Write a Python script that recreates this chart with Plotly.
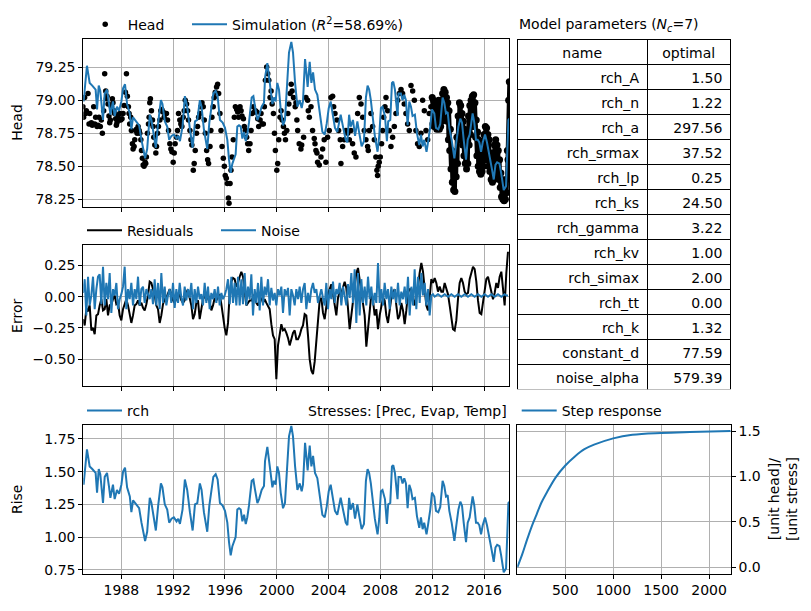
import plotly.graph_objects as go
import pandas as pd
from datetime import datetime

# ---------------- data ----------------
param_names = ["rch_A", "rch_n", "rch_a", "rch_srmax", "rch_lp", "rch_ks", "rch_gamma",
               "rch_kv", "rch_simax", "rch_tt", "rch_k", "constant_d", "noise_alpha"]
param_optimal = [1.50, 1.22, 297.56, 37.52, 0.25, 24.50, 3.22, 1.00, 2.00, 0.00, 1.32, 77.59, 579.39]

# recharge contribution (decimal years, rise)
rch_year = [1985.03,1985.08,1985.34,1985.55,1985.75,1985.94,1986.01,1986.12,1986.25,1986.37,1986.58,1986.71,1986.89,
            1987.05,1987.15,1987.35,1987.48,1987.66,1987.82,1988.00,1988.13,1988.28,1988.44,1988.65,1988.77,1988.90,
            1989.16,1989.37,1989.55,1989.73,1989.83,1989.99,1990.19,1990.32,1990.50,1990.66,1990.84,1991.05,1991.17,
            1991.35,1991.54,1991.69,1991.87,1992.05,1992.26,1992.39,1992.52,1992.72,1992.90,1993.08,1993.29,1993.50,
            1993.68,1993.86,1994.06,1994.19,1994.37,1994.63,1994.79,1994.97,1995.10,1995.28,1995.43,1995.61,1995.82,
            1996.00,1996.18,1996.31,1996.44,1996.57,1996.69,1996.82,1996.95,1997.08,1997.21,1997.34,1997.47,1997.60,
            1997.72,1997.85,1998.06,1998.19,1998.32,1998.50,1998.63,1998.83,1999.01,1999.09,1999.27,1999.40,1999.53,
            1999.66,1999.78,1999.91,2000.04,2000.17,2000.30,2000.48,2000.63,2000.81,2000.94,2001.12,2001.25,2001.41,
            2001.59,2001.77,2001.92,2002.02,2002.18,2002.28,2002.38,2002.54,2002.67,2002.80,2002.95,2003.13,2003.31,
            2003.52,2003.70,2003.85,2004.01,2004.16,2004.34,2004.49,2004.67,2004.80,2004.93,2005.11,2005.32,2005.45,
            2005.58,2005.70,2005.88,2006.04,2006.22,2006.35,2006.55,2006.73,
            2006.88,2007.01,2007.13,2007.26,2007.39,2007.57,2007.78,2007.91,2008.04,2008.16,2008.35,2008.50,2008.60,
            2008.76,2008.89,2008.99,2009.12,2009.32,2009.40,2009.58,2009.71,2009.84,2009.97,2010.10,2010.23,2010.36,
            2010.48,2010.66,2010.82,2011.00,2011.13,2011.26,2011.38,2011.56,2011.69,2011.85,2011.98,2012.16,2012.29,
            2012.47,2012.62,2012.80,2012.93,2013.06,2013.19,2013.32,2013.50,2013.71,2013.86,2014.02,2014.17,2014.30,
            2014.43,2014.61,2014.74,2014.89,2015.12,2015.25,2015.38,2015.51,2015.64,2015.77,2015.90,2016.08,2016.23,
            2016.41,2016.59,2016.75,2016.88,2017.01,2017.19,2017.32,2017.52,2017.70,2017.88,2017.95]
rch_rise = [1.45,1.40,1.67,1.54,1.52,1.50,1.49,1.34,1.52,1.48,1.26,1.46,1.49,
            1.38,1.30,1.40,1.29,1.36,1.33,1.40,1.50,1.53,1.38,1.31,1.19,1.28,
            1.25,1.22,1.11,1.00,0.97,1.04,1.30,1.26,1.15,1.05,1.24,1.41,1.38,
            1.25,1.21,1.11,1.14,1.15,1.12,1.14,1.10,1.21,1.44,1.36,1.19,1.05,
            1.25,1.26,1.41,1.36,1.19,1.04,1.24,1.36,1.46,1.48,1.44,1.26,1.24,
            1.20,1.11,0.96,0.86,0.93,0.97,1.00,1.21,1.22,1.21,1.12,1.17,1.10,
            1.15,1.24,1.43,1.44,1.36,1.26,1.29,1.36,1.39,1.58,1.69,1.59,1.46,
            1.38,1.43,1.40,1.54,1.49,1.34,1.22,1.26,1.54,1.77,1.85,1.77,1.54,
            1.36,1.41,1.35,1.40,1.72,1.62,1.51,1.70,1.54,1.62,1.49,1.45,1.33,
            1.17,1.15,1.23,1.35,1.40,1.29,1.20,1.17,1.24,1.30,1.21,1.11,1.09,
            1.30,1.21,1.26,1.14,1.25,1.17,1.06,1.10,
            1.43,1.52,1.49,1.41,1.29,1.14,1.02,1.14,1.35,1.36,1.29,1.10,1.25,
            1.26,1.54,1.55,1.49,1.29,1.46,1.46,1.41,1.45,1.41,1.22,1.40,1.36,
            1.29,1.30,1.16,1.07,1.15,1.06,1.11,1.02,1.10,1.21,1.34,1.31,1.20,
            1.19,1.23,1.43,1.39,1.31,1.32,1.20,1.11,0.97,1.09,1.21,1.27,1.24,
            1.11,0.96,1.11,1.15,1.31,1.24,1.11,1.11,1.09,1.02,1.09,1.15,1.09,
            0.98,0.90,0.81,0.92,0.94,0.93,0.86,0.73,0.76,1.26,1.27]

# observed heads, sparse period (decimal years, head)
head_year = [1985.03,1985.08,1985.16,1985.24,1985.29,1985.42,1985.50,1985.55,1985.68,1985.75,
             1985.86,1985.94,1986.01,1986.12,1986.19,1986.27,1986.37,1986.45,1986.53,1986.63,
             1986.71,1986.79,1986.84,1986.89,1986.97,1987.04,1987.10,1987.15,1987.23,1987.30,
             1987.35,1987.43,1987.48,1987.56,1987.61,1987.66,1987.74,1987.82,1987.87,1987.95,
             1988.05,1988.13,1988.21,1988.31,1988.39,1988.46,1988.54,1988.59,1988.64,1988.72,
             1988.77,1988.85,1988.90,1988.98,1989.03,1989.11,1989.16,1989.21,1989.29,1989.37,
             1989.42,1989.50,1989.55,1989.62,1989.68,1989.75,1989.83,1989.88,1989.93,1990.01,
             1990.09,1990.14,1990.19,1990.24,1990.32,1990.40,1990.45,1990.50,1990.58,1990.66,
             1990.71,1990.79,1990.86,1990.97,1991.04,1991.12,1991.22,1991.30,1991.38,1991.48,
             1991.56,1991.64,1991.74,1991.82,1991.90,1992.00,1992.08,1992.15,1992.26,1992.33,
             1992.41,1992.51,1992.59,1992.67,1992.77,1992.85,1992.93,1993.03,1993.11,1993.18,
             1993.29,1993.37,1993.44,1993.55,1993.62,1993.70,1993.80,1993.88,1993.96,1994.06,
             1994.14,1994.22,1994.32,1994.40,1994.48,1994.58,1994.66,1994.73,1994.84,1994.91,
             1994.99,1995.09,1995.17,1995.25,1995.35,1995.43,1995.51,1995.61,1995.69,1995.77,
             1995.87,1995.95,1996.02,1996.10,1996.18,1996.26,1996.31,1996.39,1996.46,1996.54,
             1996.64,1996.72,1996.80,1996.90,1996.98,1997.05,1997.16,1997.24,1997.31,1997.42,
             1997.49,1997.57,1997.67,1997.75,1997.83,1997.93,1998.01,1998.09,1998.19,1998.27,
             1998.35,1998.45,1998.53,1998.60,1998.71,1998.78,1998.86,1998.96,1999.04,1999.12,
             1999.22,1999.30,1999.38,1999.48,1999.56,1999.64,1999.74,1999.82,1999.89,2000.00,
             2000.07,2000.15,2000.25,2000.33,2000.41,2000.51,2000.59,2000.67,2000.77,2000.85,
             2000.93,2001.03,2001.11,2001.18,2001.29,2001.42,
             2001.48,2001.55,2001.61,2001.73,2001.86,2001.92,2002.07,2002.25,2002.38,2002.43,
             2002.51,2002.64,2002.76,2002.89,2002.95,2003.02,2003.10,2003.15,2003.28,2003.41,
             2003.54,2003.66,2003.79,2003.92,2004.05,2004.18,2004.31,2004.39,2004.49,2004.64,
             2004.77,2004.90,2004.95,2005.08,2005.21,2005.34,2005.47,2005.60,2005.72,2005.85,
             2005.98,2006.11,2006.24,2006.37,2006.50,2006.63,2006.75,2006.88,2007.01,2007.06,
             2007.14,2007.27,2007.40,2007.53,2007.65,2007.73,2007.78,2007.83,2007.91,2007.99,
             2008.09,2008.17,2008.25,2008.35,2008.43,2008.56,2008.68,2008.81,2008.94,2009.07,
             2009.20,2009.33,2009.46,2009.59,2009.71,2009.84,2009.97,2010.10,2010.23,2010.36,
             2010.49,2010.62,2010.74,2010.87,2011.00,2011.13,2011.26,2011.39,2011.52,2011.65,
             2011.77,2011.90]
head_obs = [78.95,78.87,79.02,78.90,78.92,79.05,78.82,78.90,78.83,78.81,
            78.95,78.82,78.87,78.80,78.81,78.87,78.80,78.85,78.75,78.92,
            79.20,79.07,79.01,79.03,78.97,78.88,78.83,78.85,78.95,79.01,
            78.98,78.92,78.90,78.86,78.81,78.83,78.88,78.85,78.90,78.85,
            78.86,78.90,78.96,79.06,79.20,79.03,78.95,78.90,78.82,78.87,
            78.77,78.67,78.63,78.65,78.70,78.77,78.78,78.75,78.80,78.77,
            78.75,78.70,78.62,78.56,78.51,78.50,78.53,78.52,78.57,78.75,
            78.82,78.87,78.98,79.01,78.92,78.85,78.80,78.72,78.66,78.60,
            78.65,78.75,78.80,78.85,78.92,78.93,78.91,78.87,78.90,78.90,
            78.85,78.77,78.67,78.63,78.61,78.53,78.60,78.67,78.72,78.77,
            78.90,78.85,78.82,78.80,78.87,78.92,79.00,78.97,78.92,78.85,
            78.77,78.70,78.66,78.47,78.52,78.62,78.75,78.80,78.87,78.90,
            78.95,78.98,78.95,78.85,78.75,78.62,78.55,78.52,78.65,78.77,
            78.87,78.95,79.02,79.06,79.10,79.12,79.05,78.90,78.77,78.65,
            78.56,78.50,78.43,78.41,78.37,78.26,78.22,78.37,78.47,78.57,
            78.70,78.87,78.95,78.93,78.91,78.87,78.95,78.92,78.88,78.86,
            78.80,78.77,78.72,78.67,78.62,78.67,78.77,78.90,78.95,78.91,
            78.92,78.91,78.86,78.80,78.85,78.90,78.82,78.82,78.95,79.15,
            79.25,79.20,79.15,79.02,79.07,78.97,78.90,78.75,78.62,78.47,
            78.52,78.70,78.87,78.92,78.85,78.80,78.75,78.70,78.77,78.90,
            78.97,79.05,79.12,79.07,79.02,78.95,
            78.98,78.85,78.77,78.67,78.63,78.66,78.72,79.02,79.00,78.92,
            78.87,78.95,78.77,78.71,78.67,78.62,78.60,78.53,78.51,78.57,
            78.63,78.70,78.53,78.72,78.77,79.02,79.03,78.95,78.90,78.85,
            78.77,78.70,78.52,78.65,78.70,78.77,78.75,78.70,78.77,78.67,
            78.60,78.57,78.90,79.02,78.97,78.87,78.77,78.70,78.65,78.62,
            78.77,78.90,78.80,78.70,78.57,78.47,78.43,78.50,78.53,78.57,
            78.67,78.77,78.87,78.95,79.02,78.92,78.77,78.65,78.72,78.80,
            78.90,79.00,79.05,79.08,79.05,78.97,78.90,78.82,78.77,79.11,
            79.07,79.00,78.77,78.67,78.65,78.75,79.00,78.92,78.77,78.70,
            78.90,78.95]

# observed heads, dense daily period (decimal years, head)
dense_year = [2012.00,2012.05,2012.10,2012.15,2012.20,2012.25,2012.30,2012.35,2012.40,2012.45,
              2012.50,2012.55,2012.60,2012.65,2012.70,2012.75,2012.80,2012.85,2012.90,2012.95,
              2013.00,2013.05,2013.10,2013.15,2013.20,2013.25,2013.30,2013.35,2013.40,2013.45,
              2013.50,2013.55,2013.60,2013.65,2013.70,2013.75,2013.80,2013.85,2013.90,2013.95,
              2014.00,2014.05,2014.10,2014.15,2014.20,2014.25,2014.30,2014.35,2014.40,2014.45,
              2014.50,2014.55,2014.60,2014.65,2014.70,2014.75,2014.80,2014.85,2014.90,2014.95,
              2015.00,2015.05,2015.10,2015.15,2015.20,2015.25,2015.30,2015.35,2015.40,2015.45,
              2015.50,2015.55,2015.60,2015.65,2015.70,2015.75,2015.80,2015.85,2015.90,2015.95,
              2016.00,2016.05,2016.10,2016.15,2016.20,2016.25,2016.30,2016.35,2016.40,2016.45,
              2016.50,2016.55,2016.60,2016.65,2016.70,2016.75,2016.80,2016.85,2016.90,2016.95,
              2017.00,2017.05,2017.10,2017.15,2017.20,2017.25,2017.30,2017.35,2017.40,2017.45,
              2017.50,2017.55,2017.60,2017.65,2017.70,2017.75,2017.80,2017.85,2017.90,2017.95]
dense_obs = [79.02,78.82,79.00,78.80,78.97,78.80,78.95,78.78,78.98,78.80,
             79.00,78.78,78.95,78.80,79.00,78.84,79.05,78.86,79.08,78.88,
             79.06,78.86,79.02,78.84,78.98,78.70,78.92,78.62,78.78,78.48,
             78.62,78.38,78.52,78.32,78.50,78.31,78.58,78.42,78.72,78.52,
             78.88,78.70,78.98,78.76,78.96,78.74,78.90,78.66,78.84,78.58,
             78.78,78.52,78.72,78.48,78.75,78.52,78.88,78.66,78.96,78.74,
             79.00,78.80,79.03,78.82,79.04,78.80,78.98,78.72,78.85,78.58,
             78.76,78.50,78.70,78.46,78.64,78.44,78.62,78.46,78.66,78.50,
             78.74,78.55,78.80,78.58,78.79,78.55,78.74,78.50,78.70,78.46,
             78.60,78.40,78.58,78.38,78.60,78.40,78.66,78.46,78.70,78.48,
             78.66,78.44,78.62,78.40,78.55,78.34,78.45,78.27,78.40,78.25,
             78.38,78.24,78.36,78.25,78.40,78.30,78.62,78.55,79.00,79.14]

# residuals and noise (one value every 47 days from 1985-01-14)
residuals = [-0.18,-0.23,-0.10,-0.11,-0.07,-0.27,-0.25,-0.30,-0.15,-0.14,
             -0.07,-0.02,-0.11,-0.10,-0.02,-0.15,-0.07,-0.06,-0.02,0.01,
             -0.06,-0.05,-0.15,-0.19,-0.10,-0.05,-0.02,-0.07,-0.13,-0.21,
             -0.15,-0.07,-0.06,-0.03,-0.07,-0.05,-0.09,-0.11,-0.06,0.01,
             0.12,0.11,0.06,0.01,-0.07,-0.10,-0.21,-0.15,-0.06,-0.02,
             -0.01,0.03,0.06,0.02,-0.03,-0.05,-0.01,0.02,0.01,-0.03,
             -0.05,-0.03,0.03,0.06,-0.01,-0.07,-0.18,-0.14,-0.05,-0.03,
             -0.18,-0.11,-0.02,0.01,-0.03,0.02,-0.05,-0.11,-0.07,-0.01,
             -0.03,-0.01,0.02,-0.06,-0.18,-0.25,-0.31,-0.21,0.02,0.12,
             0.15,0.14,0.08,0.11,0.16,0.20,0.16,0.03,-0.07,-0.05,
             -0.03,-0.03,-0.01,0.02,-0.05,-0.07,-0.03,-0.01,-0.05,-0.02,
             -0.05,-0.07,-0.10,-0.22,-0.31,-0.34,-0.66,-0.39,-0.31,-0.22,
             -0.27,-0.26,-0.29,-0.33,-0.39,-0.34,-0.29,
             -0.27,-0.34,-0.34,-0.31,-0.26,-0.23,-0.14,-0.15,-0.31,-0.50,
             -0.59,-0.62,-0.52,-0.34,-0.15,-0.03,-0.01,-0.13,-0.18,-0.09,
             0.02,0.06,0.10,0.02,-0.07,-0.15,-0.01,0.04,0.03,0.07,
             0.12,0.07,-0.07,-0.26,-0.15,-0.02,0.08,0.19,0.23,0.14,
             0.02,-0.07,-0.15,-0.40,-0.26,-0.07,0.02,-0.03,-0.15,-0.10,
             -0.26,-0.15,-0.07,-0.01,-0.03,-0.15,-0.21,-0.10,-0.01,0.03,
             0.06,-0.07,-0.18,-0.15,-0.05,-0.11,-0.22,-0.11,0.03,0.06,
             0.06,-0.02,-0.07,0.03,0.08,0.19,0.27,0.20,0.08,-0.07,
             -0.11,-0.01,0.14,0.11,0.15,0.11,0.04,0.08,0.04,0.04,
             0.11,0.06,0.02,-0.07,-0.17,-0.26,-0.27,-0.19,-0.02,0.11,
             0.15,0.11,0.04,0.02,0.03,0.14,0.19,0.24,0.22,0.12,
             -0.03,-0.13,-0.14,-0.05,0.08,0.14,0.16,0.10,0.03,-0.02,
             0.03,0.11,0.07,0.16,0.20,0.08,-0.07,0.19,0.36]
noise = [0.03,0.14,-0.15,0.16,-0.07,0.01,0.16,-0.10,0.06,0.16,
         0.18,-0.06,0.24,-0.07,0.11,-0.02,0.19,-0.13,0.06,0.01,
         0.11,-0.10,-0.02,0.02,0.08,0.24,-0.10,0.06,-0.02,0.11,
         -0.07,0.06,-0.02,0.16,-0.07,0.06,0.08,-0.05,0.06,0.01,
         -0.02,0.06,-0.06,0.14,-0.07,0.11,-0.10,0.19,-0.05,0.08,
         -0.07,0.01,0.06,-0.05,0.11,-0.09,0.06,-0.05,0.11,-0.01,
         -0.07,0.08,-0.03,0.06,-0.01,0.11,-0.10,0.06,-0.05,0.08,
         -0.02,0.02,-0.07,0.11,-0.05,0.08,-0.10,0.03,-0.02,0.06,
         -0.05,0.08,-0.07,0.03,-0.02,0.01,0.06,0.14,-0.06,0.16,
         -0.05,0.11,-0.07,0.16,-0.07,0.14,-0.06,0.19,-0.07,0.08,
         -0.02,0.18,-0.15,0.06,-0.05,0.11,-0.11,0.16,-0.07,0.08,
         0.01,0.14,-0.07,0.07,-0.03,0.03,-0.07,0.06,0.01,0.08,
         -0.13,0.06,0.01,0.07,-0.15,0.06,0.01,
         -0.07,0.06,-0.02,0.08,-0.05,0.06,0.11,-0.10,0.03,-0.05,
         0.06,0.11,0.03,0.06,-0.05,0.01,0.06,-0.01,-0.07,0.11,
         -0.10,0.06,-0.02,0.12,-0.05,0.06,0.02,0.11,-0.07,0.08,
         -0.01,-0.07,0.10,-0.01,0.19,-0.05,0.22,-0.21,0.19,-0.15,
         0.14,-0.05,0.08,-0.07,0.16,-0.02,0.08,-0.07,0.03,-0.05,
         0.27,-0.05,0.06,-0.07,0.11,-0.02,0.06,-0.10,0.08,-0.02,
         0.06,-0.05,0.11,-0.07,0.04,-0.02,0.08,-0.06,0.16,-0.15,
         0.08,-0.07,0.22,-0.10,0.16,-0.05,0.19,0.01,0.11,-0.07,
         0.06,-0.15,
         0.01,0.02,0.00,0.01,0.02,0.01,0.00,0.01,0.02,0.01,
         0.00,0.01,0.02,0.01,0.00,0.01,0.02,0.01,0.00,0.01,
         0.02,0.01,0.00,0.01,0.02,0.01,0.00,0.01,0.02,0.01,
         0.00,0.01,0.02,0.01,0.00,0.01,0.02,0.01,0.00,0.01,
         0.02,0.01,0.00,0.01,0.02,0.01,0.01]

# step response (days, unit head / unit stress)
step_t = [0, 50, 100, 150, 200, 250, 300, 400, 500, 600, 700, 800, 1000, 1200, 1500, 1800, 2226]
step_v = [0.0, 0.14, 0.30, 0.45, 0.58, 0.71, 0.81, 0.99, 1.12, 1.22, 1.30, 1.35, 1.42, 1.46, 1.48, 1.49, 1.50]

# ---------------- helpers ----------------
def dec2dt(y):
    yr = int(y)
    a = datetime(yr, 1, 1)
    b = datetime(yr + 1, 1, 1)
    return a + (b - a) * (y - yr)

constant_d = param_optimal[param_names.index("constant_d")]
rch_dates = [dec2dt(v) for v in rch_year]
sim_head = [constant_d + v for v in rch_rise]
head_dates = [dec2dt(v) for v in head_year]
dense_dates = [dec2dt(v) for v in dense_year]
n_res = min(len(residuals), len(noise))
res_dates = pd.date_range("1985-01-14", periods=n_res, freq="47D")

W, H = 811, 611
def fx(p): return p / W
def fy(p): return 1 - p / H

BLUE = "#1f77b4"
FONT = "DejaVu Sans"
XR = ["1985-01-22", "2017-12-14"]

fig = go.Figure()

fig.add_trace(go.Scatter(x=head_dates, y=head_obs, mode="markers", name="Head",
                         marker=dict(color="black", size=5.5), xaxis="x", yaxis="y", legend="legend"))
fig.add_trace(go.Scatter(x=dense_dates, y=dense_obs, mode="lines+markers", showlegend=False,
                         line=dict(color="black", width=4), marker=dict(color="black", size=7),
                         xaxis="x", yaxis="y"))
fig.add_trace(go.Scatter(x=rch_dates, y=sim_head, mode="lines",
                         name="Simulation (<i>R</i><sup>2</sup>=58.69%)",
                         line=dict(color=BLUE, width=2), xaxis="x", yaxis="y", legend="legend2"))
fig.add_trace(go.Scatter(x=res_dates, y=residuals[:n_res], mode="lines", name="Residuals",
                         line=dict(color="black", width=2), xaxis="x2", yaxis="y2", legend="legend3"))
fig.add_trace(go.Scatter(x=res_dates, y=noise[:n_res], mode="lines", name="Noise",
                         line=dict(color=BLUE, width=2), xaxis="x2", yaxis="y2", legend="legend4"))
fig.add_trace(go.Scatter(x=rch_dates, y=rch_rise, mode="lines", name="rch",
                         line=dict(color=BLUE, width=2), xaxis="x3", yaxis="y3", legend="legend5"))
fig.add_trace(go.Scatter(x=step_t, y=step_v, mode="lines", name="Step response",
                         line=dict(color=BLUE, width=2, shape="spline"), xaxis="x4", yaxis="y4",
                         legend="legend6"))

fig.add_trace(go.Table(
    domain=dict(x=[fx(517.3), fx(730.7)], y=[fy(392), fy(37.7)]),
    columnwidth=[130, 83.4],
    header=dict(values=["name", "optimal"], align="center", height=25,
                line=dict(color="black", width=1), fill=dict(color="white"),
                font=dict(family=FONT, size=14, color="black")),
    cells=dict(values=[param_names, [f"{v:.2f}" for v in param_optimal]], align="right", height=25,
               line=dict(color="black", width=1), fill=dict(color="white"),
               font=dict(family=FONT, size=14, color="black")),
))

xdom = [fx(83.3), fx(509.3)]
axis_common = dict(showline=True, linecolor="black", linewidth=1, mirror=True, ticks="outside",
                   ticklen=4, tickcolor="black", showgrid=True, gridcolor="#b0b0b0", gridwidth=1,
                   zeroline=False, tickfont=dict(family=FONT, size=14, color="black"))
date_axis = dict(axis_common, type="date", range=XR, dtick="M48", tick0="1988-01-01", tickformat="%Y")

fig.update_layout(
    width=W, height=H, margin=dict(l=0, r=0, t=0, b=0),
    paper_bgcolor="white", plot_bgcolor="white",
    font=dict(family=FONT, size=14, color="black"),
    xaxis=dict(date_axis, domain=xdom, anchor="y", showticklabels=False),
    yaxis=dict(axis_common, domain=[fy(207.3), fy(37.3)], anchor="x", range=[78.19, 79.463],
               tickvals=[78.25, 78.5, 78.75, 79.0, 79.25], tickformat=".2f"),
    xaxis2=dict(date_axis, domain=xdom, anchor="y2", showticklabels=False),
    yaxis2=dict(axis_common, domain=[fy(388.3), fy(245)], anchor="x2", range=[-0.719, 0.417],
                tickvals=[-0.5, -0.25, 0, 0.25], tickformat=".2f"),
    xaxis3=dict(date_axis, domain=xdom, anchor="y3"),
    yaxis3=dict(axis_common, domain=[fy(577.3), fy(427.3)], anchor="x3", range=[0.72, 1.856],
                tickvals=[0.75, 1.0, 1.25, 1.5, 1.75], tickformat=".2f"),
    xaxis4=dict(axis_common, domain=[fx(517.3), fx(730.7)], anchor="y4", range=[-1, 2226],
                tickvals=[500, 1000, 1500, 2000]),
    yaxis4=dict(axis_common, domain=[fy(577.3), fy(427.3)], anchor="x4", side="right",
                range=[-0.072, 1.566], tickvals=[0, 0.5, 1.0, 1.5], tickformat=".1f"),
)

def leg(xp, yp):
    return dict(x=fx(xp), y=fy(yp), xanchor="left", yanchor="middle", orientation="h",
                bgcolor="rgba(0,0,0,0)", borderwidth=0, itemwidth=35,
                font=dict(family=FONT, size=14, color="black"))

fig.update_layout(legend=leg(82.7, 23), legend2=leg(187, 23), legend3=leg(82, 231),
                  legend4=leg(216, 231), legend5=leg(82, 413), legend6=leg(516.7, 413))

ann = [
    dict(text="Head", x=fx(17), y=fy(122), textangle=-90),
    dict(text="Error", x=fx(17), y=fy(317), textangle=-90),
    dict(text="Rise", x=fx(17), y=fy(502), textangle=-90),
    dict(text="[unit head]/<br>[unit stress]", x=fx(783), y=fy(502), textangle=-90),
    dict(text="Stresses: [Prec, Evap, Temp]", x=fx(509.3), y=fy(413), xanchor="right"),
    dict(text="Model parameters (<i>N<sub>c</sub></i>=7)", x=fx(517.3), y=fy(23), xanchor="left"),
]
for a in ann:
    a.setdefault("xanchor", "center")
    fig.add_annotation(xref="paper", yref="paper", showarrow=False, yanchor="middle",
                       font=dict(family=FONT, size=14, color="black"), **a)

fig.write_html("out.html")
